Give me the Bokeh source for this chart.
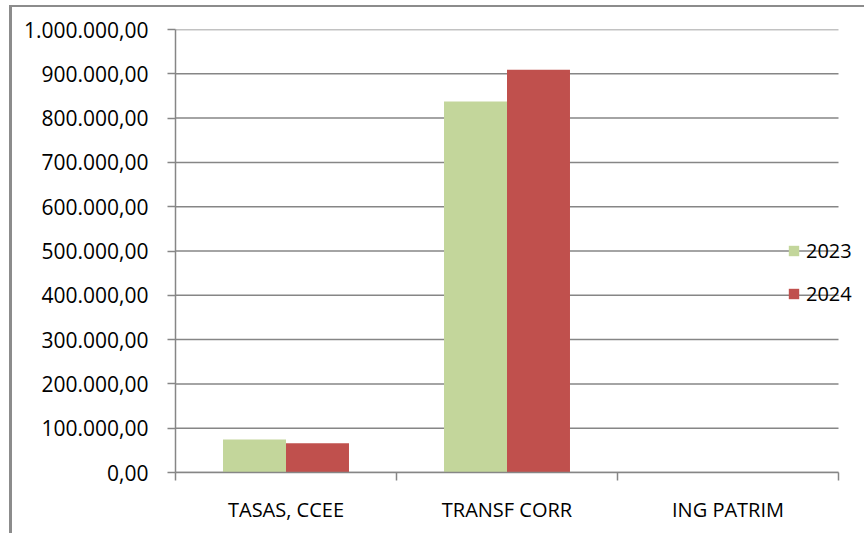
from bokeh.plotting import figure
from bokeh.models import (ColumnDataSource, Range1d, LinearAxis,
                          FixedTicker, Legend, LegendItem)
from bokeh.transform import dodge
from bokeh.embed import file_html
from bokeh.resources import INLINE

# ---- data ----
categories = ["TASAS, CCEE", "TRANSF CORR", "ING PATRIM"]
values_2023 = [74500, 837500, 0]
values_2024 = [66000, 909000, 0]
series_names = ["2023", "2024"]
y_ticks = [0, 100000, 200000, 300000, 400000, 500000, 600000, 700000, 800000, 900000, 1000000]
y_labels = ["0,00", "100.000,00", "200.000,00", "300.000,00", "400.000,00", "500.000,00",
            "600.000,00", "700.000,00", "800.000,00", "900.000,00", "1.000.000,00"]

# category slots on a numeric axis: centres at i + 0.5, boundaries at integers
n = len(categories)
centers = [i + 0.5 for i in range(n)]
bounds = list(range(n + 1))

FONT = "Open Sans"
GRAY = "#868686"

p = figure(x_range=Range1d(0, n * 692 / 663),   # extra room on the right for the legend
           y_range=Range1d(0, 1000000),
           width=855, height=528,
           output_backend="svg", toolbar_location=None,
           x_axis_location=None,
           min_border_left=163, min_border_right=0,
           min_border_top=22, min_border_bottom=63)
p.styles = {"margin-left": "9px", "margin-top": "5px",
            "border-left": "3px solid #8c8c8c", "border-top": "2px solid #8c8c8c"}
p.outline_line_color = None
p.background_fill_color = "white"
p.border_fill_color = "white"
p.xgrid.grid_line_color = None
p.ygrid.grid_line_color = None

# horizontal gridlines limited to the category area
grid_src = ColumnDataSource(dict(y=y_ticks, x0=[bounds[0]] * len(y_ticks), x1=[bounds[-1]] * len(y_ticks)))
p.segment(x0="x0", x1="x1", y0="y", y1="y", source=grid_src, line_color=GRAY, line_width=1.5)

src = ColumnDataSource(dict(x=centers, y2023=values_2023, y2024=values_2024))
r1 = p.vbar(x=dodge("x", -0.1425), top="y2023", width=0.285,
            source=src, fill_color="#c3d69b", line_color=None)
r2 = p.vbar(x=dodge("x", 0.1425), top="y2024", width=0.285,
            source=src, fill_color="#c0504d", line_color=None)

# y axis
ya = p.yaxis[0]
ya.ticker = FixedTicker(ticks=y_ticks)
ya.major_label_overrides = {t: l for t, l in zip(y_ticks, y_labels)}
ya.axis_line_color = GRAY
ya.axis_line_width = 1.5
ya.major_tick_line_color = GRAY
ya.major_tick_line_width = 1.5
ya.major_tick_out = 8
ya.major_tick_in = 0
ya.minor_tick_line_color = None
ya.major_label_standoff = 19
ya.major_label_text_font = FONT
ya.major_label_text_font_size = "21px"
ya.major_label_text_color = "black"

# x axis: labels at category centres, tick marks at category boundaries (minor ticks)
xa = LinearAxis(ticker=FixedTicker(ticks=centers, minor_ticks=bounds), bounds=(bounds[0], bounds[-1]))
xa.major_label_overrides = {c: name for c, name in zip(centers, categories)}
xa.axis_line_color = GRAY
xa.axis_line_width = 1.5
xa.major_tick_line_color = None
xa.major_tick_out = 0
xa.major_tick_in = 0
xa.minor_tick_line_color = GRAY
xa.minor_tick_line_width = 1.5
xa.minor_tick_out = 8
xa.minor_tick_in = 0
xa.major_label_standoff = 15
xa.major_label_text_font = FONT
xa.major_label_text_font_size = "20px"
xa.major_label_text_color = "black"
p.add_layout(xa, "below")

legend = Legend(items=[LegendItem(label=series_names[0], renderers=[r1]),
                       LegendItem(label=series_names[1], renderers=[r2])],
                location=(612, 165))
legend.background_fill_alpha = 0
legend.border_line_color = None
legend.padding = 0
legend.margin = 0
legend.glyph_width = 13
legend.glyph_height = 13
legend.label_standoff = 6
legend.label_height = 24
legend.spacing = 16
legend.label_text_font = FONT
legend.label_text_font_size = "20px"
legend.label_text_color = "black"
p.add_layout(legend)

open("out.html", "w").write(file_html(p, INLINE))
